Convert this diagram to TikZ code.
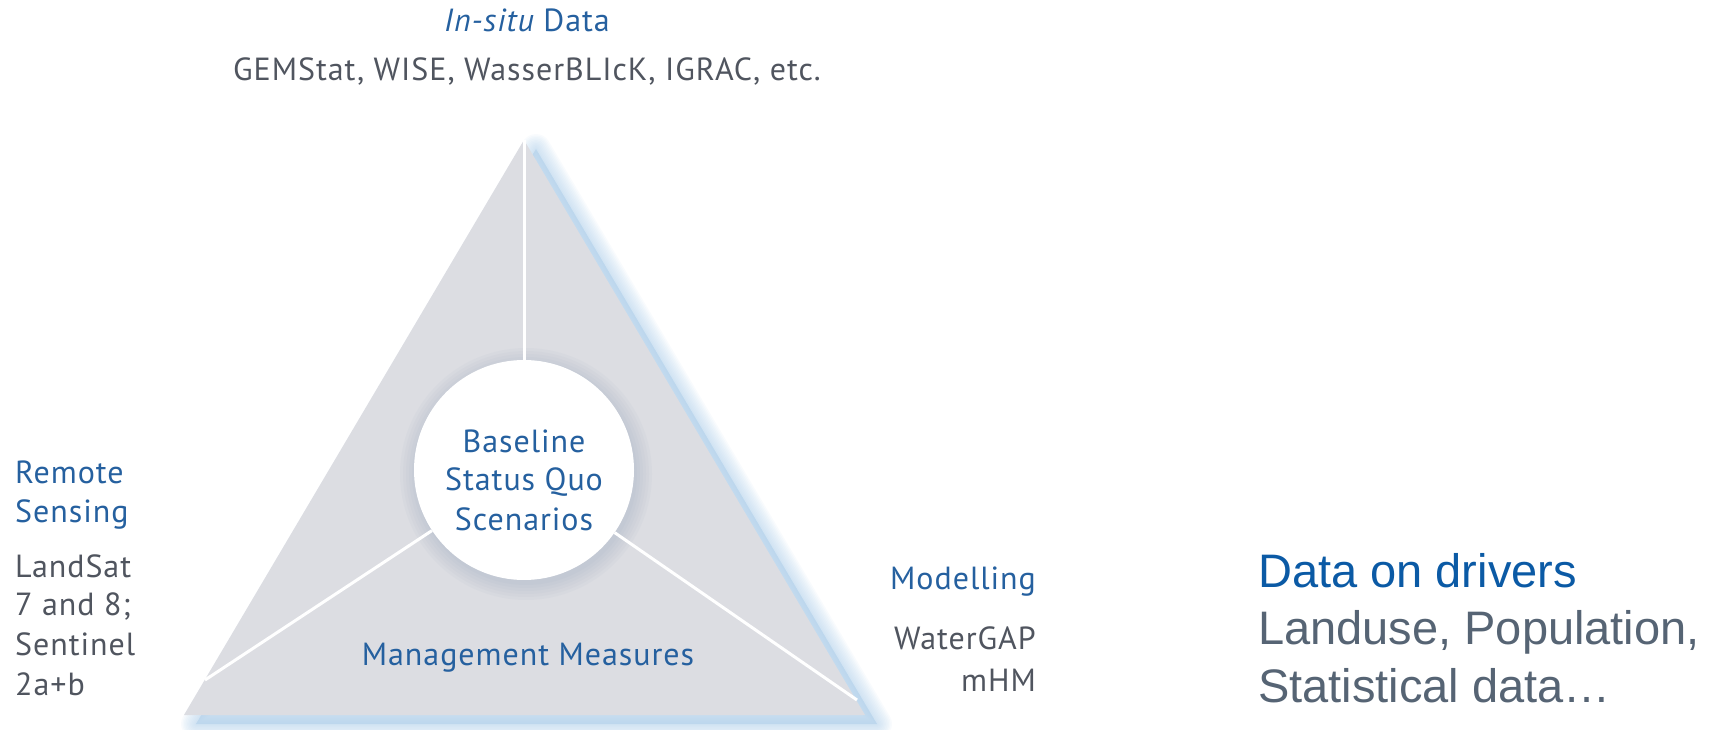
\documentclass[tikz,border=0pt]{standalone}
\usepackage{fontspec}
\setmainfont{PT Sans}[LetterSpace=3]
\newfontfamily\arialfont{Liberation Sans}
\definecolor{lblue}{HTML}{25609F}
\definecolor{lgrey}{HTML}{50555F}
\definecolor{dblue}{HTML}{0B5AA5}
\definecolor{dgrey}{HTML}{566474}
\definecolor{trifill}{HTML}{DCDDE2}
\definecolor{glow}{HTML}{A9CBE8}
\definecolor{hubshade}{HTML}{7F93B0}
\tikzset{
  bluelab/.style={font=\fontsize{32}{38}\selectfont, text=lblue, inner sep=0pt, anchor=base},
  greylab/.style={font=\fontsize{32}{38}\selectfont, text=lgrey, inner sep=0pt, anchor=base},
  bigblue/.style={font=\arialfont\fontsize{47}{56}\selectfont, text=dblue, inner sep=0pt, anchor=base west},
  biggrey/.style={font=\arialfont\fontsize{47}{56}\selectfont, text=dgrey, inner sep=0pt, anchor=base west},
  sepline/.style={white, line width=3pt},
  hubstyle/.style={circle, fill=white, minimum size=220pt, inner sep=0pt}
}
\begin{document}
\begin{tikzpicture}[x=1pt,y=-1pt]
\useasboundingbox (0,0) rectangle (1721,730);
\clip (0,0) rectangle (1721,730);
\coordinate (A) at (524,140);
\coordinate (B) at (184,715);
\coordinate (C) at (865,715);
% glow of the triangle
\foreach \w in {30,27,...,3}{
  \filldraw[glow, opacity=0.07, line width=\w pt, line join=round]
    ([shift={(12,9)}]A) -- ([shift={(12,9)}]B) -- ([shift={(12,9)}]C) -- cycle;
}
\fill[trifill] (A) -- (B) -- (C) -- cycle;
% shade of the hub
\foreach \r in {126,123,...,111}{
  \fill[hubshade, opacity=0.045] (526,474) circle[radius=\r pt];
}
\node[hubstyle] (hub) at (524,470) {};
\coordinate (lend) at (205,680);
\coordinate (rend) at (857,700);
\draw[sepline] (A) -- (hub);
\draw[sepline] (hub) -- (lend);
\draw[sepline] (hub) -- (rend);
% hub text
\node[bluelab] (h1) at (524,452) {Baseline};
\node[bluelab] (h2) at (524,490) {Status Quo};
\node[bluelab] (h3) at (524,530) {Scenarios};
\node[bluelab] (mm) at (528,665) {Management Measures};
% top
\node[bluelab] (t1) at (527,32) {\itshape In-situ\upshape{} Data};
\node[greylab] (t2) at (527,81) {GEMStat, WISE, WasserBLIcK, IGRAC, etc.};
% left
\node[bluelab, anchor=base west] (r1) at (15,483) {Remote};
\node[bluelab, anchor=base west] (r2) at (15,522) {Sensing};
\node[greylab, anchor=base west] (r3) at (15,577) {LandSat};
\node[greylab, anchor=base west] (r4) at (15,615) {7 and 8;};
\node[greylab, anchor=base west] (r5) at (15,655) {Sentinel};
\node[greylab, anchor=base west] (r6) at (15,695) {2a+b};
% right of triangle
\node[bluelab, anchor=base east] (m1) at (1036,589) {Modelling};
\node[greylab, anchor=base east] (m2) at (1036,649) {WaterGAP};
\node[greylab, anchor=base east] (m3) at (1036,691) {mHM};
% drivers
\node[bigblue] (d1) at (1258,587) {Data on drivers};
\node[biggrey] (d2) at (1258,644) {Landuse, Population,};
\node[biggrey] (d3) at (1258,702) {Statistical data…};
\end{tikzpicture}
\end{document}
